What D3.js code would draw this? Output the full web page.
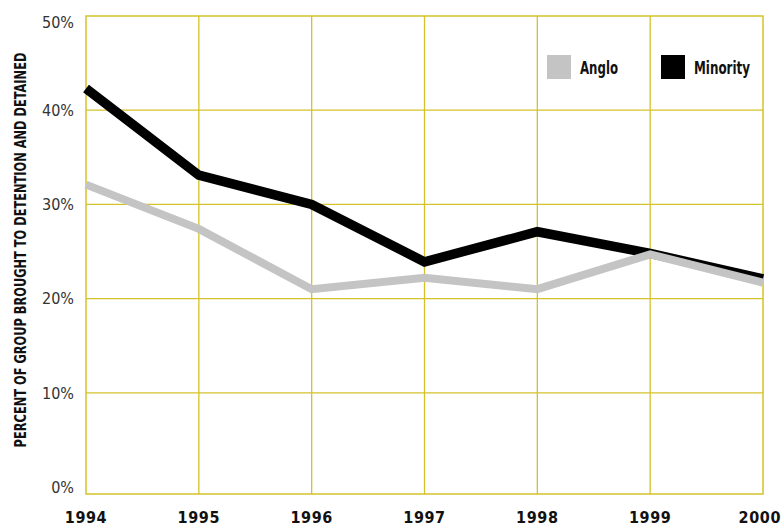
<!DOCTYPE html>
<html><head><meta charset="utf-8">
<script src="https://cdn.jsdelivr.net/npm/d3@7"></script>
<style>
html,body{margin:0;padding:0;background:#fff;}
svg{display:block;}
.cond{font-family:"DejaVu Sans Condensed","Liberation Sans Narrow",sans-serif;}
</style></head>
<body><svg id="chart" width="782" height="527"></svg>
<script>
const years = [1994, 1995, 1996, 1997, 1998, 1999, 2000];
const minority = [42.3, 33.1, 30.0, 23.9, 27.1, 24.8, 22.1];
const anglo = [32.1, 27.4, 21.0, 22.2, 21.0, 24.7, 21.7];
const yTicks = [0, 10, 20, 30, 40, 50];
const seriesNames = ["Anglo", "Minority"];
const seriesColors = ["#c4c4c4", "#000000"];
const axisTitle = "PERCENT OF GROUP BROUGHT TO DETENTION AND DETAINED";

(function () {
const W = 782;
const svg = d3.select("#chart");
const pLeft = 86, pRight = 763, pTop = 16, zeroY = 487, frameBottom = 494;
const gridColor = "#d4c22a";

const x = d3.scalePoint().domain(years).range([pLeft, pRight]);
const y = d3.scaleLinear().domain([0, 50]).range([zeroY, pTop]);

// grid
const g = svg.append("g");
g.selectAll(".hg").data(yTicks.filter(t => t > 0 && t < 50)).enter().append("line")
  .attr("x1", pLeft).attr("x2", pRight).attr("y1", d => y(d)).attr("y2", d => y(d))
  .attr("stroke", gridColor).attr("stroke-width", 1.3);
g.selectAll(".vg").data(years.slice(1, -1)).enter().append("line")
  .attr("x1", d => x(d)).attr("x2", d => x(d)).attr("y1", pTop).attr("y2", frameBottom)
  .attr("stroke", gridColor).attr("stroke-width", 1.3);
g.append("rect").attr("x", pLeft).attr("y", pTop).attr("width", pRight - pLeft).attr("height", frameBottom - pTop)
  .attr("fill", "none").attr("stroke", gridColor).attr("stroke-width", 1.5);

// y tick labels
svg.append("g").selectAll("text").data(yTicks).enter().append("text")
  .attr("class", "cond")
  .attr("x", 74)
  .attr("y", d => d === 50 ? y(d) + 6 : y(d))
  .attr("dy", "0.36em")
  .attr("text-anchor", "end")
  .attr("font-size", 16)
  .attr("fill", "#333")
  .text(d => d + "%");

// x tick labels
svg.append("g").selectAll("text").data(years).enter().append("text")
  .attr("class", "cond")
  .attr("x", d => x(d))
  .attr("y", 523)
  .attr("text-anchor", "middle")
  .attr("font-size", 16)
  .attr("font-weight", "bold")
  .attr("letter-spacing", "0.6px")
  .attr("fill", "#111")
  .text(d => d)
  .each(function (d) {
    const w = this.getComputedTextLength();
    const cx = Math.min(x(d), W - 1 - w / 2);
    d3.select(this).attr("x", cx);
  });

// axis title: tall condensed glyphs, compressed along the baseline to the reference length
const title = svg.append("text").attr("class", "cond")
  .attr("transform", "translate(26,250) rotate(-90)")
  .attr("text-anchor", "middle")
  .attr("font-size", 16.5)
  .attr("font-weight", "bold")
  .attr("fill", "#111")
  .text(axisTitle);
const tl = title.node().getComputedTextLength();
const s = Math.min(1, 395 / tl);
title.attr("transform", `translate(26,250) rotate(-90) scale(${s},1)`);

// lines
const line = d3.line().x((d, i) => x(years[i])).y(d => y(d));
svg.append("path").datum(minority).attr("d", line)
  .attr("fill", "none").attr("stroke", seriesColors[1]).attr("stroke-width", 9.5).attr("stroke-linejoin", "miter");
svg.append("path").datum(anglo).attr("d", line)
  .attr("fill", "none").attr("stroke", seriesColors[0]).attr("stroke-width", 8).attr("stroke-linejoin", "miter");

// legend
const legX = [547, 661];
const legW = [38, 56];
const lg = svg.append("g");
seriesNames.forEach((n, i) => {
  lg.append("rect").attr("x", legX[i]).attr("y", 55).attr("width", 24).attr("height", 24).attr("fill", seriesColors[i]);
  lg.append("text").attr("class", "cond").attr("x", legX[i] + 33).attr("y", 74)
    .attr("font-size", 17).attr("font-weight", "bold").attr("fill", "#111")
    .attr("textLength", legW[i]).attr("lengthAdjust", "spacingAndGlyphs")
    .text(n);
});
})();
</script></body></html>
